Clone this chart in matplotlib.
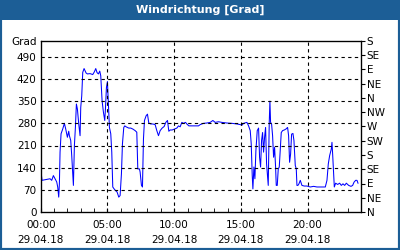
import matplotlib
matplotlib.use("Agg")
import matplotlib.pyplot as plt
from matplotlib.patches import Rectangle
import numpy as np

# zoom-pixel x (in a 3x reference crop) -> hours ; values in degrees
zx_a = [122, 122, 122, 126, 150, 155, 160, 165, 170, 173, 176, 178, 180, 183, 188, 193, 197, 202, 206, 208,
        212, 215, 218, 220, 223, 226, 229, 232, 236, 240, 242, 245, 248, 252, 258, 262, 270, 278, 283, 287,
        291, 295, 299, 302, 306, 310, 314, 316, 319, 322, 325, 328, 332, 335, 338, 342, 346, 351, 356, 360,
        364, 367, 371, 374, 378, 382, 386, 392, 398, 405, 410, 413, 418, 420, 424, 427, 430, 433, 438, 442,
        446, 452, 458, 465, 470, 475, 480, 486, 492, 497, 502, 506, 510, 516, 523, 530, 535, 540, 545, 550,
        556, 560, 566, 575, 585, 595]
val_a = [215, 170, 136, 100, 105, 100, 115, 105, 95, 79, 47, 89, 189, 247, 262, 280, 262, 236, 255, 241,
         226, 178, 121, 84, 210, 267, 341, 325, 278, 241, 330, 367, 441, 453, 439, 436, 437, 434, 443, 453,
         440, 436, 445, 430, 351, 315, 289, 325, 393, 412, 336, 267, 247, 189, 79, 73, 68, 63, 47, 52,
         121, 215, 267, 272, 269, 267, 265, 265, 262, 257, 252, 136, 136, 126, 84, 79, 231, 289, 304, 309,
         281, 278, 278, 276, 257, 241, 257, 265, 270, 283, 289, 255, 259, 259, 262, 265, 272, 269, 283, 280,
         283, 278, 272, 272, 272, 272]
zx_b = [0, 10, 20, 30, 38, 45, 55, 65, 80, 95, 110, 120, 125, 130, 140, 145, 150, 153, 156, 158,
        161, 164, 167, 171, 175, 178, 181, 184, 187, 190, 193, 196, 199, 202, 204, 207, 209, 211, 214, 217,
        220, 223, 226, 228, 231, 234, 237, 240, 243, 247, 252, 257, 262, 265, 268, 271, 274, 278, 281, 285,
        288, 290, 293, 296, 300, 305, 312, 320, 330, 340, 350, 360, 370, 375, 380, 384, 388, 393, 395, 397,
        400, 402, 406, 412, 418, 423, 428, 433, 438, 445, 452, 457, 461, 466, 470, 473]
val_b = [276, 280, 281, 283, 289, 283, 285, 283, 281, 280, 278, 276, 274, 280, 283, 272, 257, 215, 115, 73,
         142, 105, 194, 257, 265, 173, 142, 226, 251, 189, 236, 267, 152, 110, 84, 283, 350, 283, 278, 241,
         173, 204, 142, 84, 84, 136, 142, 194, 251, 257, 259, 262, 267, 241, 157, 183, 246, 248, 226, 147,
         136, 84, 84, 89, 100, 84, 82, 82, 79, 81, 79, 79, 79, 79, 100, 152, 178, 199, 220, 183,
         121, 79, 91, 87, 91, 84, 89, 84, 91, 84, 81, 84, 94, 100, 100, 91]

hours = [(z - 122) / 40 for z in zx_a] + [(z + 600 - 122) / 40 for z in zx_b]
values = val_a + val_b

left_ticks = [0, 70, 140, 210, 280, 350, 420, 490]
right_ticks = list(range(0, 541, 45))
right_labels = ["N", "NE", "E", "SE", "S", "SW", "W", "NW", "N", "NE", "E", "SE", "S"]
x_major = [0, 5, 10, 15, 20]
x_labels = ["00:00\n29.04.18", "05:00\n29.04.18", "10:00\n29.04.18", "15:00\n29.04.18", "20:00\n29.04.18"]
title = "Windrichtung [Grad]"

blue = "#1C5E96"
fig = plt.figure(figsize=(4, 2.5), dpi=100)
fig.patch.set_facecolor("white")
# border and title bar
fig.patches.append(Rectangle((0, 0), 1, 1, transform=fig.transFigure, fill=False,
                             edgecolor=blue, linewidth=3, zorder=10))
fig.patches.append(Rectangle((0, 1 - 20 / 250), 1, 20 / 250, transform=fig.transFigure,
                             facecolor=blue, edgecolor="none", zorder=9))
fig.text(0.5, 1 - 10 / 250, title, color="white", fontsize=8, fontweight="bold",
         ha="center", va="center", zorder=11)

ax = fig.add_axes([40.7 / 400, 1 - 212 / 250, (361 - 40.7) / 400, (212 - 41) / 250])
ax.plot(hours, values, color="#0000FF", linewidth=0.75)
ax.set_xlim(0, 24)
ax.set_ylim(0, 540)
ax.set_yticks(left_ticks + [540])
ax.set_yticklabels([str(t) for t in left_ticks] + ["Grad"])
ax.tick_params(axis="y", length=0, labelsize=7.5, pad=3)
ax.set_xticks(x_major)
ax.set_xticklabels(x_labels)
ax.set_xticks(range(0, 25), minor=True)
ax.tick_params(axis="x", which="both", direction="in", length=3, labelsize=7.5, pad=6)
for lab in ax.get_xticklabels():
    lab.set_linespacing(1.6)
for y in left_ticks[1:]:
    ax.axhline(y, color="black", linestyle=(0, (3, 3)), linewidth=0.8)
for x in x_major[1:]:
    ax.axvline(x, color="black", linestyle=(0, (3, 3)), linewidth=0.8)
for s in ax.spines.values():
    s.set_linewidth(0.9)

ax2 = ax.twinx()
ax2.set_ylim(0, 540)
ax2.set_yticks(right_ticks)
ax2.set_yticklabels(right_labels)
ax2.tick_params(axis="y", length=3, labelsize=7.5, pad=1)

fig.savefig("out.png", dpi=100)
